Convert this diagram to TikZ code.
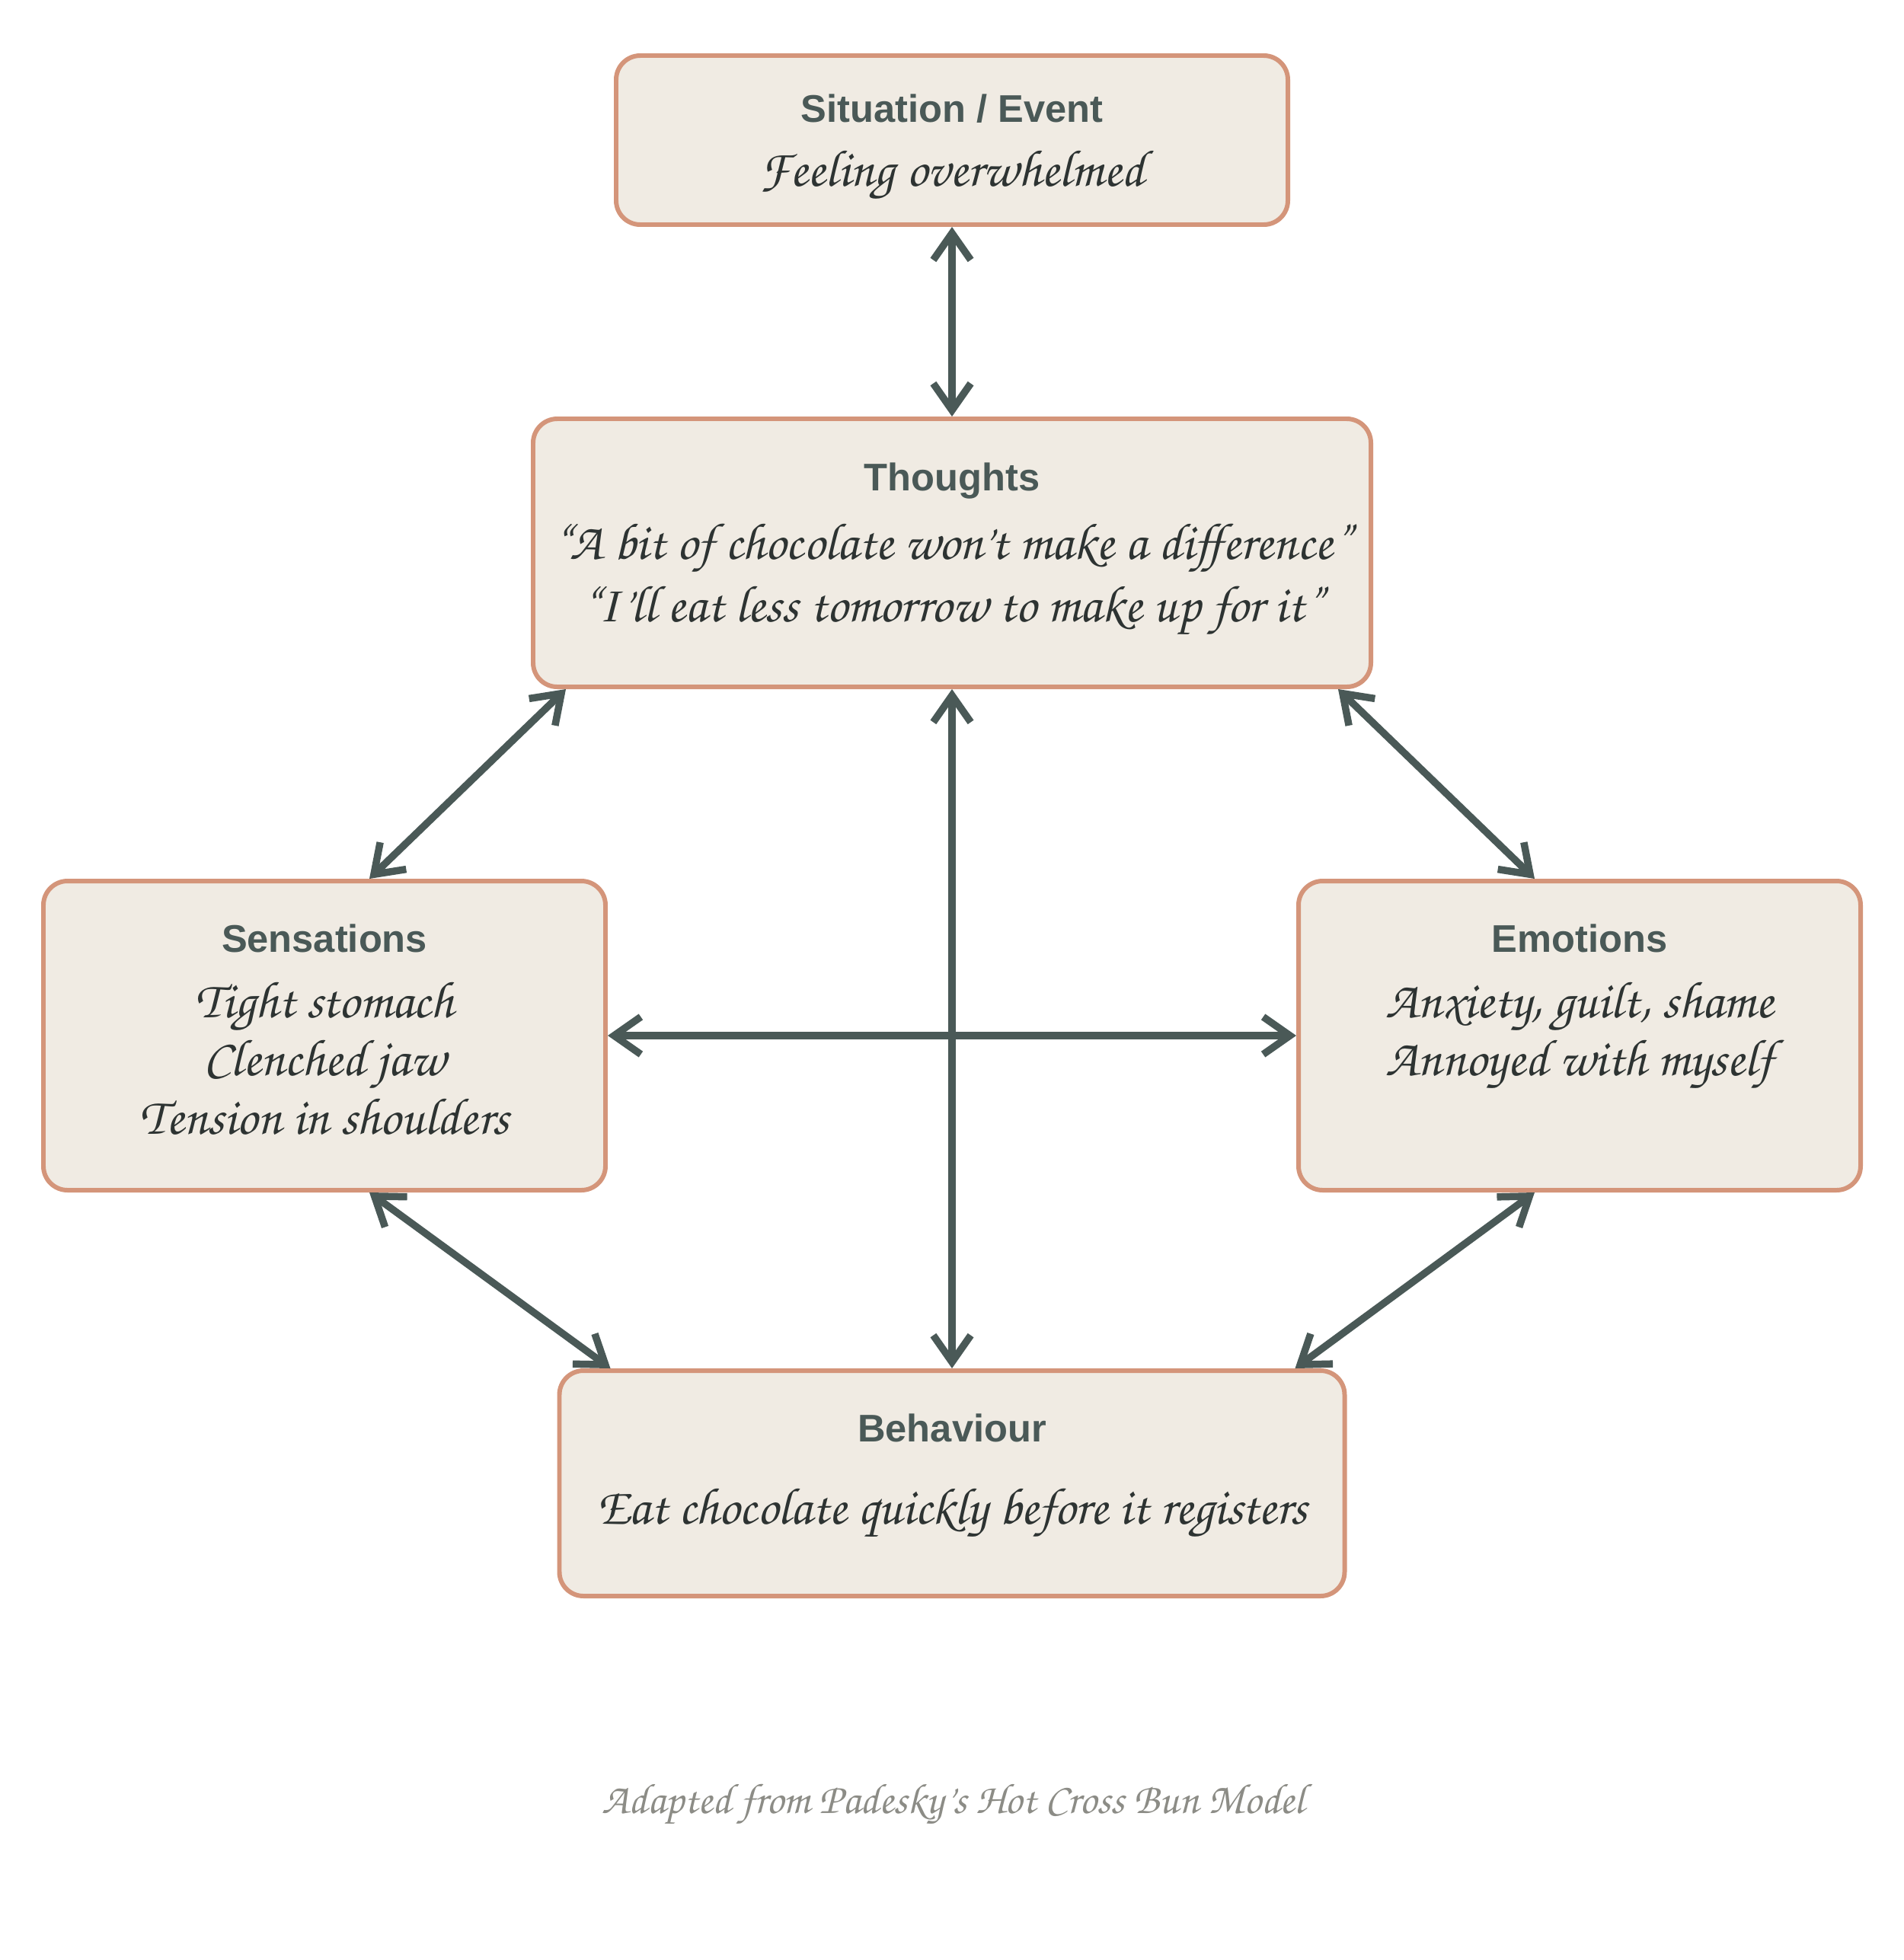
\documentclass[tikz,border=0pt]{standalone}
\usepackage{fontspec}
\usetikzlibrary{arrows.meta}
\newfontfamily\headfont{Liberation Sans}
\newfontfamily\handfont{texgyrechorus-mediumitalic}[Extension=.otf]
\definecolor{slate}{HTML}{4A5957}
\definecolor{bunfill}{HTML}{F0EBE3}
\definecolor{bunline}{HTML}{D4957A}
\definecolor{ink}{HTML}{2D3332}
\definecolor{note}{HTML}{8C8C86}
\newcommand\bunlines[1]{\begin{tabular}[t]{@{}c@{}}#1\end{tabular}}
\tikzset{
  bun/.style={draw=bunline, fill=bunfill, line width=1.7pt, rounded corners=9pt, inner sep=0pt},
  head/.style={anchor=base, inner sep=0pt, text=slate, font=\headfont\bfseries\fontsize{14.4}{17}\selectfont},
  body/.style={anchor=base, inner sep=0pt, text=ink, font=\handfont\fontsize{19.4}{21.8}\selectfont},
  link/.style={draw=slate, line width=2.7pt, line cap=round,
    {Straight Barb[length=10pt,width=14pt]}-{Straight Barb[length=10pt,width=14pt]}}
}
\begin{document}
\begin{tikzpicture}
\useasboundingbox (0,0) rectangle (25,-25.74);
\node[bun, minimum width=8.82cm, minimum height=2.22cm] (sit) at (12.5,-1.84) {};
\node[bun, minimum width=11.0cm, minimum height=3.52cm] (th) at (12.5,-7.26) {};
\node[bun, minimum width=7.38cm, minimum height=4.06cm] (sens) at (4.26,-13.6) {};
\node[bun, minimum width=7.38cm, minimum height=4.06cm] (emo) at (20.74,-13.6) {};
\node[bun, minimum width=10.31cm, minimum height=2.96cm] (beh) at (12.5,-19.48) {};

\node[head] (sitH) at ([yshift=-0.9cm]sit.north) {Situation / Event};
\node[body] (sitB) at ([yshift=-0.84cm]sitH.base) {Feeling overwhelmed};
\node[head] (thH) at ([yshift=-0.97cm]th.north) {Thoughts};
\node[body, font=\handfont\fontsize{19.4}{23.6}\selectfont] (thB) at ([yshift=-0.9cm]thH.base) {\bunlines{“A bit of chocolate won’t make a difference”\\“I’ll eat less tomorrow to make up for it”}};
\node[head] (sensH) at ([yshift=-0.96cm]sens.north) {Sensations};
\node[body] (sensB) at ([yshift=-0.86cm]sensH.base) {\bunlines{Tight stomach\\Clenched jaw\\Tension in shoulders}};
\node[head] (emoH) at ([yshift=-0.96cm]emo.north) {Emotions};
\node[body] (emoB) at ([yshift=-0.86cm]emoH.base) {\bunlines{Anxiety, guilt, shame\\Annoyed with myself}};
\node[head] (behH) at ([yshift=-0.96cm]beh.north) {Behaviour};
\node[body] (behB) at ([yshift=-1.08cm]behH.base) {Eat chocolate quickly before it registers};

\draw[link] (sit.south) -- (th.north);
\draw[link] ([xshift=0.46cm]th.south west) -- ([xshift=0.59cm]sens.north);
\draw[link] ([xshift=-0.46cm]th.south east) -- ([xshift=-0.59cm]emo.north);
\draw[link] (th.south) -- (beh.north);
\draw[link] (sens.east) -- (emo.west);
\draw[link] ([xshift=0.59cm]sens.south) -- ([xshift=0.7cm]beh.north west);
\draw[link] ([xshift=-0.59cm]emo.south) -- ([xshift=-0.68cm]beh.north east);

\node[anchor=base, inner sep=0pt, text=note, font=\handfont\fontsize{16}{20}\selectfont] (credit) at (12.52,-23.81) {Adapted from Padesky’s Hot Cross Bun Model};
\end{tikzpicture}
\end{document}
